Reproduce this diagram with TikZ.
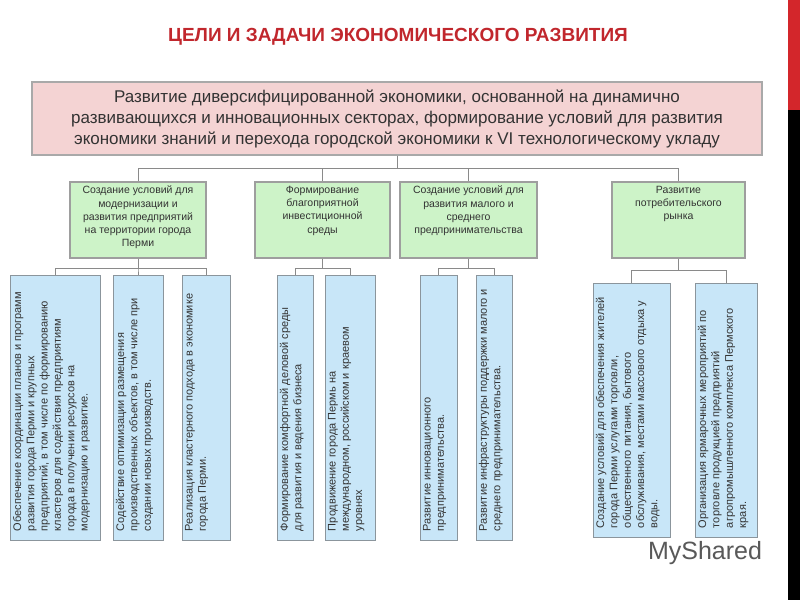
\documentclass[tikz,border=0pt]{standalone}
\usepackage{fontspec}
\setmainfont{Liberation Sans}
\usepackage{xcolor}
\usepackage{tikz}
\definecolor{TitleRed}{HTML}{C1272D}
\definecolor{BarRed}{HTML}{D3262B}
\definecolor{TopPink}{HTML}{F4D3D3}
\definecolor{TopLine}{HTML}{A9A9A9}
\definecolor{GoalGreen}{HTML}{CDF3C8}
\definecolor{BoxLine}{HTML}{9E9E9E}
\definecolor{TaskBlue}{HTML}{C8E6F8}
\definecolor{TaskLine}{HTML}{8B959C}
\definecolor{LinkGray}{HTML}{8A8A8A}
\definecolor{TextDark}{HTML}{333333}
\newcommand{\goalcell}[2]{\parbox[c][76pt][t]{#1}{\centering\vspace*{4pt}#2}}
\newcommand{\taskcell}[3]{\parbox[c][#2][t]{#1}{\raggedright\leftskip=9pt\vspace*{3pt}#3}}

\begin{document}
\begin{tikzpicture}[x=1pt,y=-1pt,
  topbox/.style={draw=TopLine,fill=TopPink,line width=1.6pt,minimum width=730pt,
                 minimum height=73pt,align=center,text=TextDark,
                 font=\fontsize{17}{21}\selectfont},
  goalbox/.style={draw=BoxLine,fill=GoalGreen,line width=1.4pt,inner sep=0pt,
                  text=TextDark,font=\fontsize{10.5}{13.3}\selectfont},
  taskbox/.style={draw=TaskLine,fill=TaskBlue,line width=0.8pt,inner sep=0pt,
                  rotate=90,text=TextDark,font=\fontsize{11}{13.3}\selectfont},
  link/.style={draw=LinkGray,line width=0.8pt}
]
  \useasboundingbox (0,0) rectangle (800,600);
  \fill[white] (0,0) rectangle (800,600);
  \fill[BarRed] (788,0) rectangle (800,110);
  \fill[black] (788,110) rectangle (800,600);

  \node[text=TitleRed,font=\fontsize{19}{21}\selectfont\bfseries] (title) at (398,36.5)
    {ЦЕЛИ И ЗАДАЧИ ЭКОНОМИЧЕСКОГО РАЗВИТИЯ};

  \node[topbox] (goal) at (397,118.5)
    {Развитие диверсифицированной экономики, основанной на динамично\\
     развивающихся и инновационных секторах, формирование условий для развития\\
     экономики знаний и перехода городской экономики к VI технологическому укладу};

  % goals
  \node[goalbox] (g1) at (138,220) {\goalcell{136pt}{Создание условий для\\модернизации  и\\развития  предприятий\\на территории города\\Перми}};
  \node[goalbox] (g2) at (322.5,220) {\goalcell{135pt}{Формирование\\благоприятной\\инвестиционной\\среды}};
  \node[goalbox] (g3) at (468.5,220) {\goalcell{137pt}{Создание условий для\\развития малого и\\среднего\\предпринимательства}};
  \node[goalbox] (g4) at (678.5,220) {\goalcell{133pt}{Развитие\\потребительского\\рынка}};

  % tasks
  \node[taskbox] (t1a) at (55,407.5) {\taskcell{265pt}{90pt}{Обеспечение  координации планов и программ\\развития города Перми и крупных\\предприятий, в том числе по  формированию\\кластеров для содействия предприятиям\\города в получении ресурсов на\\модернизацию и развитие.}};
  \node[taskbox] (t1b) at (138,407.5) {\taskcell{265pt}{50pt}{Содействие оптимизации  размещения\\производственных объектов, в том числе при\\создании новых производств.}};
  \node[taskbox] (t1c) at (206,407.5) {\taskcell{265pt}{48pt}{Реализация  кластерного подхода в экономике\\города Перми.}};
  \node[taskbox] (t2a) at (295,407.5) {\taskcell{265pt}{36pt}{Формирование комфортной деловой среды\\для развития и ведения бизнеса}};
  \node[taskbox] (t2b) at (350,407.5) {\taskcell{265pt}{50pt}{Продвижение города Пермь на\\международном, российском и краевом\\уровнях}};
  \node[taskbox] (t3a) at (438.5,407.5) {\taskcell{265pt}{37pt}{Развитие инновационного\\предпринимательства.}};
  \node[taskbox] (t3b) at (494,407.5) {\taskcell{265pt}{36pt}{Развитие инфраструктуры поддержки малого и\\среднего предпринимательства.}};
  \node[taskbox] (t4a) at (631.5,410) {\taskcell{254pt}{77pt}{Создание  условий для обеспечения жителей\\города Перми услугами торговли,\\общественного питания,  бытового\\обслуживания, местами массового отдыха у\\воды.}};
  \node[taskbox] (t4b) at (726,410) {\taskcell{254pt}{62pt}{Организация  ярмарочных мероприятий по\\торговле продукцией предприятий\\агропромышленного комплекса Пермского\\края.}};

  \node[text=black!65,font=\fontsize{25}{25}\selectfont] (mark) at (705,553) {MyShared};

  % links
  \foreach \g in {g1,g2,g3,g4}
    \draw[link] (goal.south) -- ++(0,12.5) -| (\g.north);
  \foreach \t in {t1a,t1b,t1c}
    \draw[link] (g1.south) -- ++(0,10) -| (\t.east);
  \foreach \t in {t2a,t2b}
    \draw[link] (g2.south) -- ++(0,10) -| (\t.east);
  \foreach \t in {t3a,t3b}
    \draw[link] (g3.south) -- ++(0,10) -| (\t.east);
  \foreach \t in {t4a,t4b}
    \draw[link] (g4.south) -- ++(0,12) -| (\t.east);
\end{tikzpicture}
\end{document}
